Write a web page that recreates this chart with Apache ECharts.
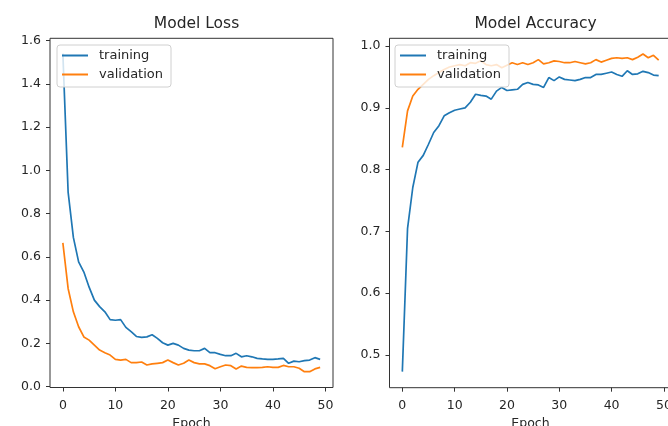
<!DOCTYPE html>
<html>
<head>
<meta charset="utf-8">
<script src="https://cdn.jsdelivr.net/npm/echarts@6/dist/echarts.min.js"></script>
<style>
html,body{margin:0;padding:0;background:#fff;}
#chart{width:668px;height:426px;}
</style>
</head>
<body>
<div id="chart"></div>
<script>
var seriesNames = ['training', 'validation'];
var titles = ['Model Loss', 'Model Accuracy'];
var xTicks = [0, 10, 20, 30, 40, 50];
var lossTicks = [0.0, 0.2, 0.4, 0.6, 0.8, 1.0, 1.2, 1.4, 1.6];
var accTicks = [0.5, 0.6, 0.7, 0.8, 0.9, 1.0];

var trainLoss = [1.54, 0.90, 0.69, 0.577, 0.53, 0.46, 0.40, 0.37, 0.346, 0.31,
  0.307, 0.31, 0.274, 0.254, 0.232, 0.228, 0.23, 0.24, 0.223, 0.203,
  0.192, 0.2, 0.192, 0.177, 0.169, 0.166, 0.166, 0.177, 0.157, 0.157,
  0.149, 0.143, 0.143, 0.154, 0.138, 0.143, 0.138, 0.131, 0.128, 0.126,
  0.126, 0.128, 0.131, 0.108, 0.118, 0.115, 0.12, 0.123, 0.134, 0.126];
var valLoss = [0.665, 0.454, 0.346, 0.277, 0.23, 0.215, 0.192, 0.169, 0.157, 0.146,
  0.126, 0.123, 0.126, 0.111, 0.111, 0.114, 0.1, 0.105, 0.108, 0.111,
  0.123, 0.111, 0.1, 0.108, 0.123, 0.111, 0.105, 0.105, 0.097, 0.083,
  0.092, 0.1, 0.097, 0.082, 0.095, 0.089, 0.088, 0.088, 0.089, 0.092,
  0.089, 0.089, 0.098, 0.092, 0.092, 0.085, 0.069, 0.069, 0.082, 0.089];
var trainAcc = [0.473, 0.705, 0.771, 0.812, 0.823, 0.841, 0.86, 0.871, 0.887, 0.892,
  0.896, 0.898, 0.9, 0.909, 0.922, 0.92, 0.919, 0.914, 0.927, 0.933,
  0.928, 0.929, 0.93, 0.938, 0.941, 0.938, 0.937, 0.933, 0.949, 0.944,
  0.95, 0.946, 0.945, 0.944, 0.946, 0.949, 0.949, 0.954, 0.954, 0.956,
  0.958, 0.954, 0.951, 0.96, 0.954, 0.955, 0.959, 0.957, 0.953, 0.952];
var valAcc = [0.836, 0.895, 0.919, 0.93, 0.938, 0.946, 0.952, 0.957, 0.962, 0.966,
  0.968, 0.97, 0.968, 0.973, 0.972, 0.976, 0.97, 0.968, 0.97, 0.965,
  0.969, 0.973, 0.97, 0.973, 0.97, 0.973, 0.978, 0.971, 0.973, 0.976,
  0.975, 0.973, 0.973, 0.975, 0.973, 0.971, 0.973, 0.978, 0.974, 0.977,
  0.98, 0.981, 0.98, 0.981, 0.978, 0.982, 0.987, 0.981, 0.985, 0.977];

function pairs(arr) { return arr.map(function (v, i) { return [i, v]; }); }

var FONT = 'DejaVu Sans';
var TXT = '#262626';
var BLUE = '#1f77b4', ORANGE = '#ff7f0e';

function xAxisCfg(gi) {
  return {
    type: 'value', gridIndex: gi, min: -2.45, max: 51.45,
    name: 'Epoch', nameLocation: 'middle', nameGap: 28,
    nameTextStyle: { fontFamily: FONT, fontSize: 12.5, color: TXT },
    splitLine: { show: false },
    axisLine: { show: false, onZero: false },
    axisTick: { show: true, length: 4, inside: false, customValues: xTicks, lineStyle: { color: '#333', width: 1 } },
    axisLabel: { customValues: xTicks, margin: 12, fontFamily: FONT, fontSize: 12.5, color: TXT }
  };
}
function yAxisCfg(gi, mn, mx, ticks) {
  return {
    type: 'value', gridIndex: gi, min: mn, max: mx,
    splitLine: { show: false },
    axisLine: { show: false, onZero: false },
    axisTick: { show: true, length: 4, inside: false, customValues: ticks, lineStyle: { color: '#333', width: 1 } },
    axisLabel: { customValues: ticks, margin: 9, fontFamily: FONT, fontSize: 12.5, color: TXT,
      formatter: function (v) { return v.toFixed(1); } }
  };
}
function legendCfg(left, top) {
  return {
    orient: 'vertical', left: left, top: top,
    data: seriesNames,
    icon: 'rect', itemWidth: 26, itemHeight: 2, itemGap: 6,
    padding: [4, 8, 6, 5],
    backgroundColor: 'rgba(255,255,255,0.8)',
    borderColor: '#d0d0d0', borderWidth: 1, borderRadius: 3,
    selectedMode: false,
    textStyle: { fontFamily: FONT, fontSize: 13, color: TXT, padding: [0, 0, 0, 6] }
  };
}
function lineSeries(name, color, xi, data) {
  return {
    type: 'line', name: name, xAxisIndex: xi, yAxisIndex: xi,
    data: pairs(data), symbol: 'none', smooth: false,
    lineStyle: { color: color, width: 1.7 }, itemStyle: { color: color }
  };
}

var chart = echarts.init(document.getElementById('chart'), null, { renderer: 'canvas' });
chart.setOption({
  animation: false,
  backgroundColor: '#fff',
  title: [
    { text: titles[0], left: 191.5, top: 11, textAlign: 'center',
      textStyle: { fontFamily: FONT, fontSize: 15.5, fontWeight: 'normal', color: TXT } },
    { text: titles[1], left: 530.5, top: 11, textAlign: 'center',
      textStyle: { fontFamily: FONT, fontSize: 15.5, fontWeight: 'normal', color: TXT } }
  ],
  grid: [
    { left: 50, top: 38.3, width: 283, height: 349.2, show: true, outerBoundsMode: 'none', containLabel: false,
      borderColor: '#333', borderWidth: 1, backgroundColor: 'transparent' },
    { left: 389.5, top: 38.3, width: 282, height: 349.4, show: true, outerBoundsMode: 'none', containLabel: false,
      borderColor: '#333', borderWidth: 1, backgroundColor: 'transparent' }
  ],
  xAxis: [xAxisCfg(0), xAxisCfg(1)],
  yAxis: [yAxisCfg(0, -0.004, 1.611, lossTicks), yAxisCfg(1, 0.447, 1.0125, accTicks)],
  legend: [legendCfg(57, 45), legendCfg(395, 45)],
  series: [
    lineSeries(seriesNames[0], BLUE, 0, trainLoss),
    lineSeries(seriesNames[1], ORANGE, 0, valLoss),
    lineSeries(seriesNames[0], BLUE, 1, trainAcc),
    lineSeries(seriesNames[1], ORANGE, 1, valAcc)
  ]
});
</script>
</body>
</html>
